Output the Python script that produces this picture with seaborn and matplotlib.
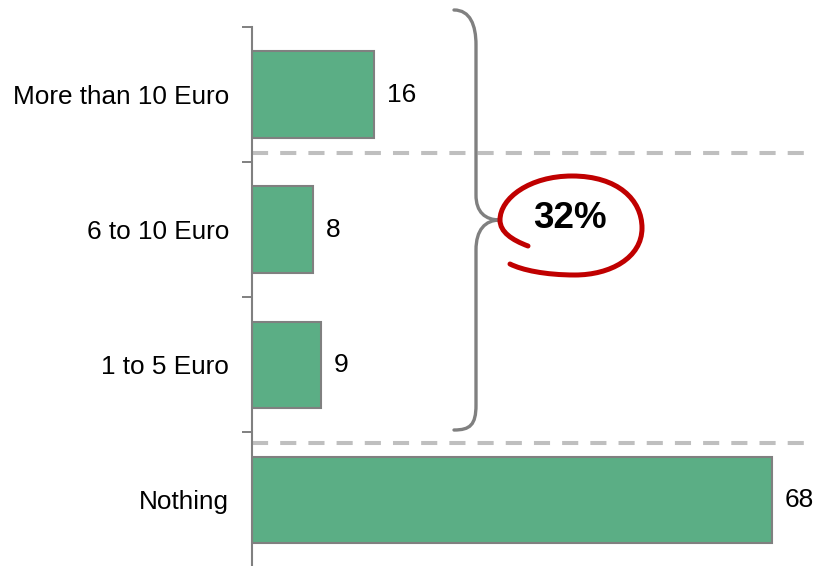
import matplotlib

matplotlib.use("Agg")
import matplotlib.pyplot as plt
import seaborn as sns
from matplotlib.path import Path
from matplotlib.patches import PathPatch

# data
categories = ["More than 10 Euro", "6 to 10 Euro", "1 to 5 Euro", "Nothing"]
values = [16, 8, 9, 68]
share_label = "32%"

BAR_COLOR = "#5BAE85"
GREY = "#808080"

sns.set_theme(style="white")
plt.rcParams["font.family"] = ["Liberation Sans", "DejaVu Sans"]
plt.rcParams["text.color"] = "black"

W, H = 815, 566
fig = plt.figure(figsize=(W / 100, H / 100), dpi=100)
ax = fig.add_axes([252 / W, (H - 567.5) / H, (W - 252) / W, 540.5 / H])

sns.barplot(x=values, y=categories, orient="h", color=BAR_COLOR,
            edgecolor=GREY, linewidth=1.5, width=0.64, saturation=1, ax=ax)
ax.bar_label(ax.containers[0], fmt="%d", padding=9, fontsize=19,
             color="black")

ax.set_xlim(0, (W - 252) / 7.647)
ax.set_ylim(len(categories) - 0.5, -0.5)
ax.set_xlabel("")
ax.set_ylabel("")
ax.set_xticks([])

# labels at centres without marks, short marks at group boundaries
ax.tick_params(axis="y", which="major", length=0, pad=16.5, labelsize=18.8,
               labelcolor="black")
ax.set_yticks([i - 0.5 for i in range(len(categories))], minor=True)
ax.tick_params(axis="y", which="minor", left=True, length=7.2, width=1.4,
               color=GREY)

for side in ["top", "right", "bottom"]:
    ax.spines[side].set_visible(False)
ax.spines["left"].set_color(GREY)
ax.spines["left"].set_linewidth(1.5)

# dashed separators
for yy in [0.43, 2.58]:
    ax.axhline(yy, color="#BFBFBF", lw=2.9, dashes=(4, 3), zorder=0,
               clip_on=False)

# overlay for brace and hand-drawn loop (pixel coordinates)
ov = fig.add_axes([0, 0, 1, 1])
ov.set_xlim(0, W)
ov.set_ylim(H, 0)
ov.axis("off")
ov.patch.set_alpha(0)

C4, M, L = Path.CURVE4, Path.MOVETO, Path.LINETO
brace_verts = [(454, 10), (470, 10), (476, 25), (476, 45),
               (476, 195),
               (476, 212), (485, 220), (500, 220),
               (485, 220), (476, 230), (476, 250),
               (476, 405),
               (476, 425), (470, 430), (454, 430)]
brace_codes = [M, C4, C4, C4, L, C4, C4, C4, C4, C4, C4, L, C4, C4, C4]
ov.add_patch(PathPatch(Path(brace_verts, brace_codes), fill=False,
                       edgecolor=GREY, lw=2.4, capstyle="round"))

loop_verts = [(528, 246), (512, 240), (500, 232), (500, 220),
              (500, 198), (530, 176), (572, 176),
              (618, 176), (642, 200), (642, 228),
              (642, 258), (610, 275), (575, 275),
              (545, 275), (522, 270), (510, 264)]
loop_codes = [M] + [C4] * 15
ov.add_patch(PathPatch(Path(loop_verts, loop_codes), fill=False,
                       edgecolor="#C00000", lw=3.6, capstyle="round"))
ov.text(570, 218, share_label, fontsize=26.5, fontweight="bold",
        color="black", ha="center", va="center")

fig.savefig("out.png", dpi=100)
